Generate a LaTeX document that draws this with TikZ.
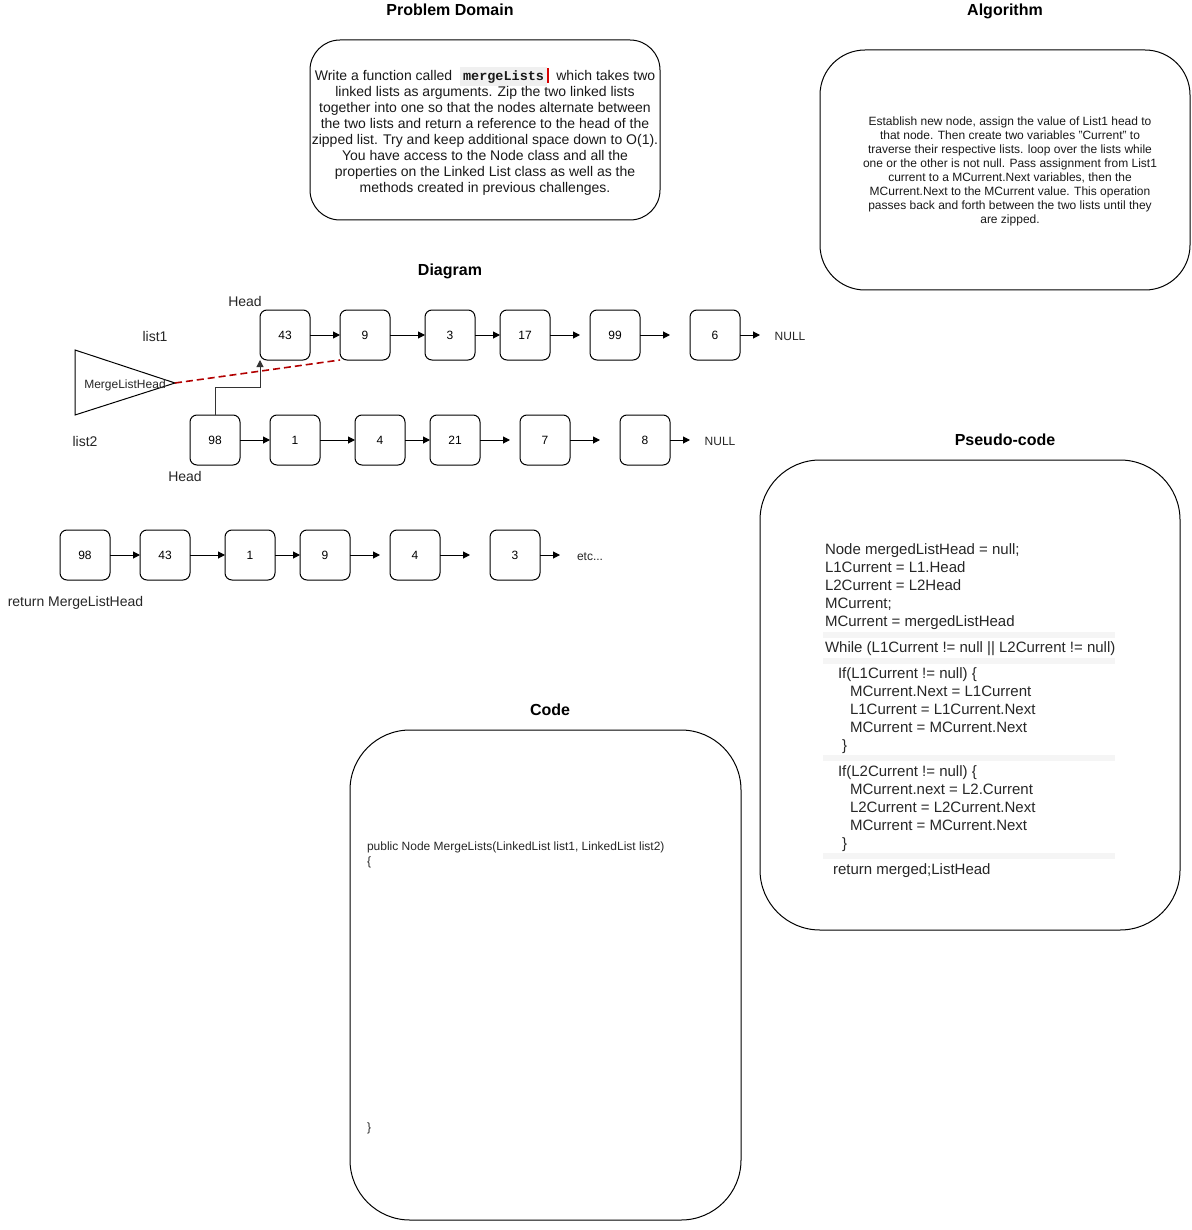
\documentclass[tikz,border=0pt]{standalone}
\usepackage{fontspec}
\setmainfont{Liberation Sans}
\newfontfamily\codefont{Liberation Mono}
\usetikzlibrary{arrows.meta}
\begin{document}
\begin{tikzpicture}[x=1pt,y=-1pt,
  every node/.style={inner sep=0pt, outer sep=0pt},
  oneline/.style={text height=0.72em, text depth=0pt, yshift=-2pt},
  title/.style={oneline, font=\fontsize{16}{19}\selectfont\bfseries},
  bigbox/.style={draw, line width=1pt},
  lnode/.style={draw, line width=1pt, rounded corners=7pt, minimum width=50pt, minimum height=50pt, font=\fontsize{12}{14}\selectfont},
  lbl/.style={oneline, font=\fontsize{14}{16}\selectfont, text=black!85},
  small/.style={oneline, font=\fontsize{12}{14}\selectfont, text=black!85},
  pc/.style={oneline, font=\fontsize{15}{18}\selectfont, anchor=west, text=black!85},
  arr/.style={-{Triangle[length=7pt,width=7pt]}, line width=1pt},
  band/.style={fill=black!4, draw=none}
]
\useasboundingbox (0,0) rectangle (1191,1230);

% ---------- titles
\node[title] (tpd) at (450,10) {Problem Domain};
\node[title] (talg) at (1005,10) {Algorithm};
\node[title] (tdia) at (450,270) {Diagram};
\node[title] (tpc) at (1005,440) {Pseudo-code};
\node[title] (tcode) at (550,710) {Code};

% ---------- problem domain
\node[bigbox, rounded corners=30pt, minimum width=350pt, minimum height=180pt] (pd) at (485,130) {};
\node[align=center, font=\fontsize{14}{16.1}\selectfont, text=black!90] (pdt) at (485,131.5) {%
Write a function called \ {\fboxsep=3pt\colorbox{black!6}{\codefont\bfseries\fontsize{13.5}{15}\selectfont mergeLists}}{\color{red!85!black}\rule[-3pt]{1.5pt}{15pt}} \ which takes two\\
linked lists as arguments. Zip the two linked lists\\
together into one so that the nodes alternate between\\
the two lists and return a reference to the head of the\\
zipped list. Try and keep additional space down to O(1).\\
You have access to the Node class and all the\\
properties on the Linked List class as well as the\\
methods created in previous challenges.};

% ---------- algorithm
\node[bigbox, rounded corners=45pt, minimum width=370pt, minimum height=240pt] (alg) at (1005,170) {};
\node[align=center, font=\fontsize{12}{14}\selectfont, text=black!90] (algt) at (1010,171) {%
Establish new node, assign the value of List1 head to\\
that node. Then create two variables "Current" to\\
traverse their respective lists. loop over the lists while\\
one or the other is not null. Pass assignment from List1\\
current to a MCurrent.Next variables, then the\\
MCurrent.Next to the MCurrent value. This operation\\
passes back and forth between the two lists until they\\
are zipped.};

% ---------- diagram: list1
\node[lnode] (a43) at (285,335) {43};
\node[lnode] (a9)  at (365,335) {9};
\node[lnode] (a3)  at (450,335) {3};
\node[lnode] (a17) at (525,335) {17};
\node[lnode] (a99) at (615,335) {99};
\node[lnode] (a6)  at (715,335) {6};
\node[small] (anull) at (790,335) {NULL};
\coordinate (ae1) at (580,335);
\coordinate (ae2) at (670,335);
\coordinate (ae3) at (760,335);
\draw[arr] (a43) -- (a9);
\draw[arr] (a9) -- (a3);
\draw[arr] (a3) -- (a17);
\draw[arr] (a17) -- (ae1);
\draw[arr] (a99) -- (ae2);
\draw[arr] (a6) -- (ae3);

% ---------- diagram: list2
\node[lnode] (b98) at (215,440) {98};
\node[lnode] (b1)  at (295,440) {1};
\node[lnode] (b4)  at (380,440) {4};
\node[lnode] (b21) at (455,440) {21};
\node[lnode] (b7)  at (545,440) {7};
\node[lnode] (b8)  at (645,440) {8};
\node[small] (bnull) at (720,440) {NULL};
\coordinate (be1) at (510,440);
\coordinate (be2) at (600,440);
\coordinate (be3) at (690,440);
\draw[arr] (b98) -- (b1);
\draw[arr] (b1) -- (b4);
\draw[arr] (b4) -- (b21);
\draw[arr] (b21) -- (be1);
\draw[arr] (b7) -- (be2);
\draw[arr] (b8) -- (be3);

% labels
\node[lbl] (h1) at (245,301) {Head};
\node[lbl] (l1) at (155,336) {list1};
\node[lbl] (l2) at (85,441) {list2};
\node[lbl] (h2) at (185,476) {Head};

% triangle MergeListHead
\draw[line width=1pt] (75,350) -- (75,415) -- (175,383) -- cycle;
\coordinate (apex) at (175,383);
\node[small] (mlh) at (125,383) {MergeListHead};
\draw[red!70!black, line width=1.6pt, dash pattern=on 7pt off 4pt] (apex) -- (a9.south west);

% 98 -> 43 elbow
\draw[arr, black!80] (b98.north) -- ++(0,-28) -| (a43.south west);

% ---------- merged list
\node[lnode] (m98) at (85,555) {98};
\node[lnode] (m43) at (165,555) {43};
\node[lnode] (m1)  at (250,555) {1};
\node[lnode] (m9)  at (325,555) {9};
\node[lnode] (m4)  at (415,555) {4};
\node[lnode] (m3)  at (515,555) {3};
\node[small] (metc) at (590,555) {etc...};
\coordinate (me1) at (380,555);
\coordinate (me2) at (470,555);
\coordinate (me3) at (560,555);
\draw[arr] (m98) -- (m43);
\draw[arr] (m43) -- (m1);
\draw[arr] (m1) -- (m9);
\draw[arr] (m9) -- (me1);
\draw[arr] (m4) -- (me2);
\draw[arr] (m3) -- (me3);
\node[lbl] (ret) at (75.5,601) {return MergeListHead};

% ---------- pseudo-code
\node[bigbox, rounded corners=60pt, minimum width=420pt, minimum height=470pt] (pcb) at (970,695) {};
\fill[band] (823,632) rectangle (1115,638);
\fill[band] (823,658) rectangle (1115,664);
\fill[band] (823,755) rectangle (1115,761);
\fill[band] (823,853) rectangle (1115,859);
\node[pc] (p1) at (825,549) {Node mergedListHead = null;};
\node[pc] (p2) at (825,567) {L1Current = L1.Head};
\node[pc] (p3) at (825,585) {L2Current = L2Head};
\node[pc] (p4) at (825,603) {MCurrent;};
\node[pc] (p5) at (825,621) {MCurrent = mergedListHead};
\node[pc] (p6) at (825,647) {While (L1Current != null || L2Current != null)};
\node[pc] (p7) at (838,673) {If(L1Current != null) \{};
\node[pc] (p8) at (850,691) {MCurrent.Next = L1Current};
\node[pc] (p9) at (850,709) {L1Current = L1Current.Next};
\node[pc] (p10) at (850,727) {MCurrent = MCurrent.Next};
\node[pc] (p11) at (842,745) {\}};
\node[pc] (p12) at (838,771) {If(L2Current != null) \{};
\node[pc] (p13) at (850,789) {MCurrent.next = L2.Current};
\node[pc] (p14) at (850,807) {L2Current = L2Current.Next};
\node[pc] (p15) at (850,825) {MCurrent = MCurrent.Next};
\node[pc] (p16) at (842,843) {\}};
\node[pc] (p17) at (833,869) {return merged;ListHead};

% ---------- code
\node[bigbox, rounded corners=60pt, minimum width=391pt, minimum height=490pt] (cb) at (545.5,975) {};
\node[small, anchor=west] (c1) at (367,845) {public Node MergeLists(LinkedList list1, LinkedList list2)};
\node[small, anchor=west] (c2) at (367,860) {\{};
\node[small, anchor=west] (c3) at (367,1126) {\}};
\end{tikzpicture}
\end{document}
